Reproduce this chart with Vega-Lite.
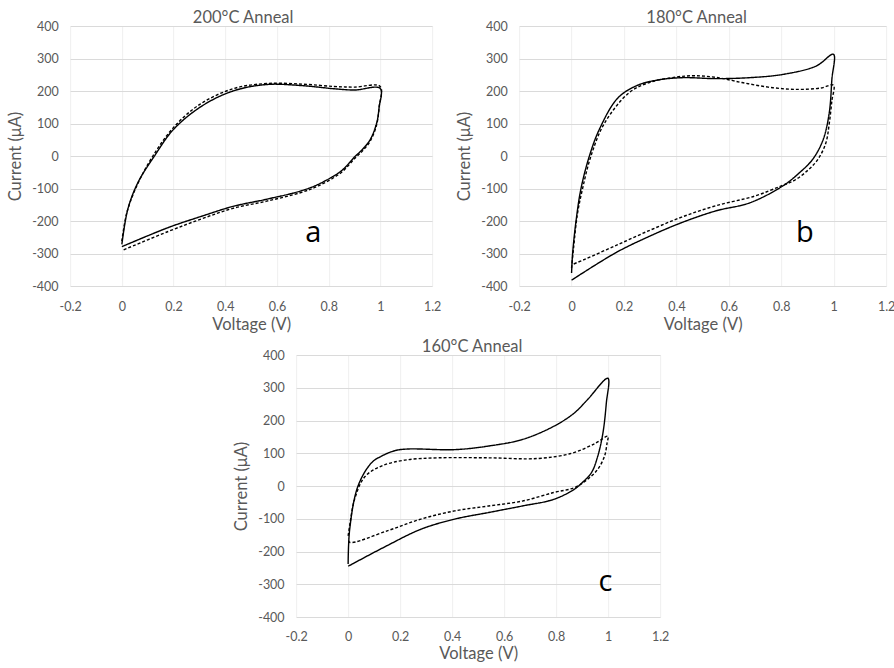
{
  "$schema": "https://vega.github.io/schema/vega-lite/v6.json",
  "padding": {"left": 7, "top": 9, "right": 2, "bottom": 0},
  "background": "white",
  "config": {
    "font": "Lato",
    "view": {"stroke": null},
    "title": {"fontSize": 16.5, "fontWeight": "normal", "color": "#595959", "offset": -6, "anchor": "middle"},
    "axis": {
      "labelColor": "#595959", "labelFontSize": 12.5, "titleColor": "#595959", "titleFontSize": 16.5,
      "titleFontWeight": "normal", "grid": true, "gridColor": "#dadada", "domain": false, "ticks": false,
      "labelPadding": 10, "labelOverlap": false, "labelFlush": false
    },
    "axisX": {"gridColor": "#efefef", "titlePadding": 4, "labelPadding": 14},
    "axisY": {"titlePadding": 8, "labelPadding": 12}
  },
  "datasets": {
    "a": [
      {"s":"solid","i":0,"v":0,"c":-272},{"s":"solid","i":1,"v":0.023,"c":-164},{"s":"solid","i":2,"v":0.062,"c":-82},{"s":"solid","i":3,"v":0.126,"c":0},{"s":"solid","i":4,"v":0.2,"c":82},{"s":"solid","i":5,"v":0.31,"c":154},{"s":"solid","i":6,"v":0.43,"c":200},{"s":"solid","i":7,"v":0.56,"c":220},{"s":"solid","i":8,"v":0.69,"c":217},{"s":"solid","i":9,"v":0.82,"c":207},{"s":"solid","i":10,"v":0.9,"c":203},{"s":"solid","i":11,"v":0.999,"c":208},{"s":"solid","i":12,"v":0.995,"c":150},{"s":"solid","i":13,"v":0.985,"c":100},{"s":"solid","i":14,"v":0.96,"c":50},{"s":"solid","i":15,"v":0.93,"c":20},{"s":"solid","i":16,"v":0.9,"c":-3},{"s":"solid","i":17,"v":0.85,"c":-45},{"s":"solid","i":18,"v":0.76,"c":-87},{"s":"solid","i":19,"v":0.69,"c":-108},{"s":"solid","i":20,"v":0.56,"c":-133},{"s":"solid","i":21,"v":0.43,"c":-155},{"s":"solid","i":22,"v":0.31,"c":-185},{"s":"solid","i":23,"v":0.18,"c":-220},{"s":"solid","i":24,"v":0,"c":-279},
      {"s":"dashed","i":0,"v":0,"c":-262},{"s":"dashed","i":1,"v":0.02,"c":-172},{"s":"dashed","i":2,"v":0.06,"c":-88},{"s":"dashed","i":3,"v":0.12,"c":0},{"s":"dashed","i":4,"v":0.2,"c":88},{"s":"dashed","i":5,"v":0.3,"c":158},{"s":"dashed","i":6,"v":0.43,"c":207},{"s":"dashed","i":7,"v":0.56,"c":223},{"s":"dashed","i":8,"v":0.7,"c":221},{"s":"dashed","i":9,"v":0.82,"c":214},{"s":"dashed","i":10,"v":0.9,"c":212},{"s":"dashed","i":11,"v":0.999,"c":214},{"s":"dashed","i":12,"v":0.995,"c":150},{"s":"dashed","i":13,"v":0.985,"c":95},{"s":"dashed","i":14,"v":0.96,"c":45},{"s":"dashed","i":15,"v":0.93,"c":15},{"s":"dashed","i":16,"v":0.9,"c":-8},{"s":"dashed","i":17,"v":0.85,"c":-50},{"s":"dashed","i":18,"v":0.76,"c":-92},{"s":"dashed","i":19,"v":0.69,"c":-113},{"s":"dashed","i":20,"v":0.56,"c":-139},{"s":"dashed","i":21,"v":0.43,"c":-161},{"s":"dashed","i":22,"v":0.31,"c":-193},{"s":"dashed","i":23,"v":0.18,"c":-232},{"s":"dashed","i":24,"v":0,"c":-291}
    ],
    "b": [
      {"s":"solid","i":0,"v":0,"c":-360},{"s":"solid","i":1,"v":0.004,"c":-300},{"s":"solid","i":2,"v":0.017,"c":-200},{"s":"solid","i":3,"v":0.036,"c":-100},{"s":"solid","i":4,"v":0.068,"c":0},{"s":"solid","i":5,"v":0.106,"c":82},{"s":"solid","i":6,"v":0.176,"c":178},{"s":"solid","i":7,"v":0.25,"c":217},{"s":"solid","i":8,"v":0.33,"c":234},{"s":"solid","i":9,"v":0.424,"c":241},{"s":"solid","i":10,"v":0.552,"c":238},{"s":"solid","i":11,"v":0.679,"c":241},{"s":"solid","i":12,"v":0.806,"c":251},{"s":"solid","i":13,"v":0.934,"c":277},{"s":"solid","i":14,"v":0.999,"c":313},{"s":"solid","i":15,"v":0.993,"c":236},{"s":"solid","i":16,"v":0.983,"c":133},{"s":"solid","i":17,"v":0.96,"c":51},{"s":"solid","i":18,"v":0.92,"c":-10},{"s":"solid","i":19,"v":0.87,"c":-51},{"s":"solid","i":20,"v":0.806,"c":-92},{"s":"solid","i":21,"v":0.68,"c":-144},{"s":"solid","i":22,"v":0.55,"c":-169},{"s":"solid","i":23,"v":0.42,"c":-205},{"s":"solid","i":24,"v":0.3,"c":-246},{"s":"solid","i":25,"v":0.17,"c":-297},{"s":"solid","i":26,"v":0,"c":-382},
      {"s":"dashed","i":0,"v":0,"c":-345},{"s":"dashed","i":1,"v":0.008,"c":-280},{"s":"dashed","i":2,"v":0.022,"c":-180},{"s":"dashed","i":3,"v":0.042,"c":-100},{"s":"dashed","i":4,"v":0.074,"c":0},{"s":"dashed","i":5,"v":0.125,"c":100},{"s":"dashed","i":6,"v":0.22,"c":195},{"s":"dashed","i":7,"v":0.3,"c":227},{"s":"dashed","i":8,"v":0.4,"c":243},{"s":"dashed","i":9,"v":0.47,"c":247},{"s":"dashed","i":10,"v":0.55,"c":242},{"s":"dashed","i":11,"v":0.65,"c":226},{"s":"dashed","i":12,"v":0.75,"c":212},{"s":"dashed","i":13,"v":0.85,"c":205},{"s":"dashed","i":14,"v":0.95,"c":209},{"s":"dashed","i":15,"v":0.999,"c":218},{"s":"dashed","i":16,"v":0.993,"c":170},{"s":"dashed","i":17,"v":0.983,"c":100},{"s":"dashed","i":18,"v":0.97,"c":40},{"s":"dashed","i":19,"v":0.94,"c":-10},{"s":"dashed","i":20,"v":0.9,"c":-45},{"s":"dashed","i":21,"v":0.85,"c":-75},{"s":"dashed","i":22,"v":0.8,"c":-92},{"s":"dashed","i":23,"v":0.7,"c":-123},{"s":"dashed","i":24,"v":0.55,"c":-153},{"s":"dashed","i":25,"v":0.42,"c":-188},{"s":"dashed","i":26,"v":0.3,"c":-228},{"s":"dashed","i":27,"v":0.17,"c":-275},{"s":"dashed","i":28,"v":0.05,"c":-318},{"s":"dashed","i":29,"v":0,"c":-335}
    ],
    "c": [
      {"s":"solid","i":0,"v":0,"c":-238},{"s":"solid","i":1,"v":0.006,"c":-132},{"s":"solid","i":2,"v":0.038,"c":0},{"s":"solid","i":3,"v":0.09,"c":71},{"s":"solid","i":4,"v":0.128,"c":91},{"s":"solid","i":5,"v":0.18,"c":108},{"s":"solid","i":6,"v":0.23,"c":113},{"s":"solid","i":7,"v":0.41,"c":111},{"s":"solid","i":8,"v":0.54,"c":122},{"s":"solid","i":9,"v":0.67,"c":142},{"s":"solid","i":10,"v":0.79,"c":182},{"s":"solid","i":11,"v":0.87,"c":223},{"s":"solid","i":12,"v":0.92,"c":263},{"s":"solid","i":13,"v":0.999,"c":329},{"s":"solid","i":14,"v":0.993,"c":253},{"s":"solid","i":15,"v":0.98,"c":162},{"s":"solid","i":16,"v":0.96,"c":91},{"s":"solid","i":17,"v":0.936,"c":41},{"s":"solid","i":18,"v":0.9,"c":10},{"s":"solid","i":19,"v":0.87,"c":-10},{"s":"solid","i":20,"v":0.79,"c":-41},{"s":"solid","i":21,"v":0.67,"c":-61},{"s":"solid","i":22,"v":0.54,"c":-81},{"s":"solid","i":23,"v":0.41,"c":-101},{"s":"solid","i":24,"v":0.28,"c":-132},{"s":"solid","i":25,"v":0.15,"c":-182},{"s":"solid","i":26,"v":0,"c":-245},
      {"s":"dashed","i":0,"v":0,"c":-152},{"s":"dashed","i":1,"v":0.008,"c":-110},{"s":"dashed","i":2,"v":0.025,"c":-40},{"s":"dashed","i":3,"v":0.064,"c":28},{"s":"dashed","i":4,"v":0.128,"c":61},{"s":"dashed","i":5,"v":0.218,"c":79},{"s":"dashed","i":6,"v":0.346,"c":86},{"s":"dashed","i":7,"v":0.54,"c":86},{"s":"dashed","i":8,"v":0.73,"c":84},{"s":"dashed","i":9,"v":0.86,"c":100},{"s":"dashed","i":10,"v":0.95,"c":130},{"s":"dashed","i":11,"v":0.999,"c":152},{"s":"dashed","i":12,"v":0.996,"c":132},{"s":"dashed","i":13,"v":0.986,"c":91},{"s":"dashed","i":14,"v":0.96,"c":51},{"s":"dashed","i":15,"v":0.92,"c":20},{"s":"dashed","i":16,"v":0.87,"c":-5},{"s":"dashed","i":17,"v":0.79,"c":-20},{"s":"dashed","i":18,"v":0.67,"c":-46},{"s":"dashed","i":19,"v":0.54,"c":-61},{"s":"dashed","i":20,"v":0.41,"c":-76},{"s":"dashed","i":21,"v":0.28,"c":-101},{"s":"dashed","i":22,"v":0.15,"c":-137},{"s":"dashed","i":23,"v":0.006,"c":-172},{"s":"dashed","i":24,"v":0,"c":-160}
    ]
  },
  "vconcat": [
    {
      "hconcat": [
        {
          "width": 362, "height": 260,
          "title": {"text": "200°C Anneal", "dx": -8},
          "encoding": {
            "x": {"field": "v", "type": "quantitative", "scale": {"domain": [-0.2, 1.2], "nice": false, "zero": false}, "axis": {"values": [-0.2, 0, 0.2, 0.4, 0.6, 0.8, 1, 1.2], "title": "Voltage (V)", "labelExpr": "'' + datum.value"}},
            "y": {"field": "c", "type": "quantitative", "scale": {"domain": [-400, 400], "nice": false}, "axis": {"values": [-400, -300, -200, -100, 0, 100, 200, 300, 400], "title": "Current (μA)", "labelExpr": "'' + datum.value"}}
          },
          "layer": [
            {
              "data": {"name": "a"},
              "mark": {"type": "line", "interpolate": "catmull-rom", "strokeWidth": 1.4, "color": "black"},
              "encoding": {
                "order": {"field": "i", "type": "quantitative"},
                "detail": {"field": "s"},
                "strokeDash": {"field": "s", "type": "nominal", "scale": {"domain": ["solid", "dashed"], "range": [[1, 0], [3, 2]]}, "legend": null}
              }
            },
            {
              "data": {"values": [{"v": 0.74, "c": -236, "t": "a"}]},
              "mark": {"type": "text", "fontSize": 29, "color": "black", "font": "Open Sans"},
              "encoding": {"text": {"field": "t"}}
            }
          ]
        },
        {
          "width": 367, "height": 260,
          "title": {"text": "180°C Anneal", "dx": -6},
          "encoding": {
            "x": {"field": "v", "type": "quantitative", "scale": {"domain": [-0.2, 1.2], "nice": false, "zero": false}, "axis": {"values": [-0.2, 0, 0.2, 0.4, 0.6, 0.8, 1, 1.2], "title": "Voltage (V)", "labelExpr": "'' + datum.value"}},
            "y": {"field": "c", "type": "quantitative", "scale": {"domain": [-400, 400], "nice": false}, "axis": {"values": [-400, -300, -200, -100, 0, 100, 200, 300, 400], "title": "Current (μA)", "labelExpr": "'' + datum.value"}}
          },
          "layer": [
            {
              "data": {"name": "b"},
              "mark": {"type": "line", "interpolate": "catmull-rom", "strokeWidth": 1.4, "color": "black"},
              "encoding": {
                "order": {"field": "i", "type": "quantitative"},
                "detail": {"field": "s"},
                "strokeDash": {"field": "s", "type": "nominal", "scale": {"domain": ["solid", "dashed"], "range": [[1, 0], [3, 2]]}, "legend": null}
              }
            },
            {
              "data": {"values": [{"v": 0.89, "c": -236, "t": "b"}]},
              "mark": {"type": "text", "fontSize": 29, "color": "black", "font": "Open Sans"},
              "encoding": {"text": {"field": "t"}}
            }
          ]
        }
      ],
      "spacing": 15
    },
    {
      "width": 364, "height": 262,
      "title": {"text": "160°C Anneal", "dx": -6},
      "encoding": {
        "x": {"field": "v", "type": "quantitative", "scale": {"domain": [-0.2, 1.2], "nice": false, "zero": false}, "axis": {"values": [-0.2, 0, 0.2, 0.4, 0.6, 0.8, 1, 1.2], "title": "Voltage (V)", "labelExpr": "'' + datum.value", "labelPadding": 13, "titlePadding": 3}},
        "y": {"field": "c", "type": "quantitative", "scale": {"domain": [-400, 400], "nice": false}, "axis": {"values": [-400, -300, -200, -100, 0, 100, 200, 300, 400], "title": "Current (μA)", "labelExpr": "'' + datum.value"}}
      },
      "layer": [
        {
          "data": {"name": "c"},
          "mark": {"type": "line", "interpolate": "catmull-rom", "strokeWidth": 1.4, "color": "black"},
          "encoding": {
            "order": {"field": "i", "type": "quantitative"},
            "detail": {"field": "s"},
            "strokeDash": {"field": "s", "type": "nominal", "scale": {"domain": ["solid", "dashed"], "range": [[1, 0], [3, 2]]}, "legend": null}
          }
        },
        {
          "data": {"values": [{"v": 0.99, "c": -294, "t": "c"}]},
          "mark": {"type": "text", "fontSize": 29, "color": "black", "font": "Open Sans"},
          "encoding": {"text": {"field": "t"}}
        }
      ]
    }
  ],
  "spacing": 5,
  "center": true
}
